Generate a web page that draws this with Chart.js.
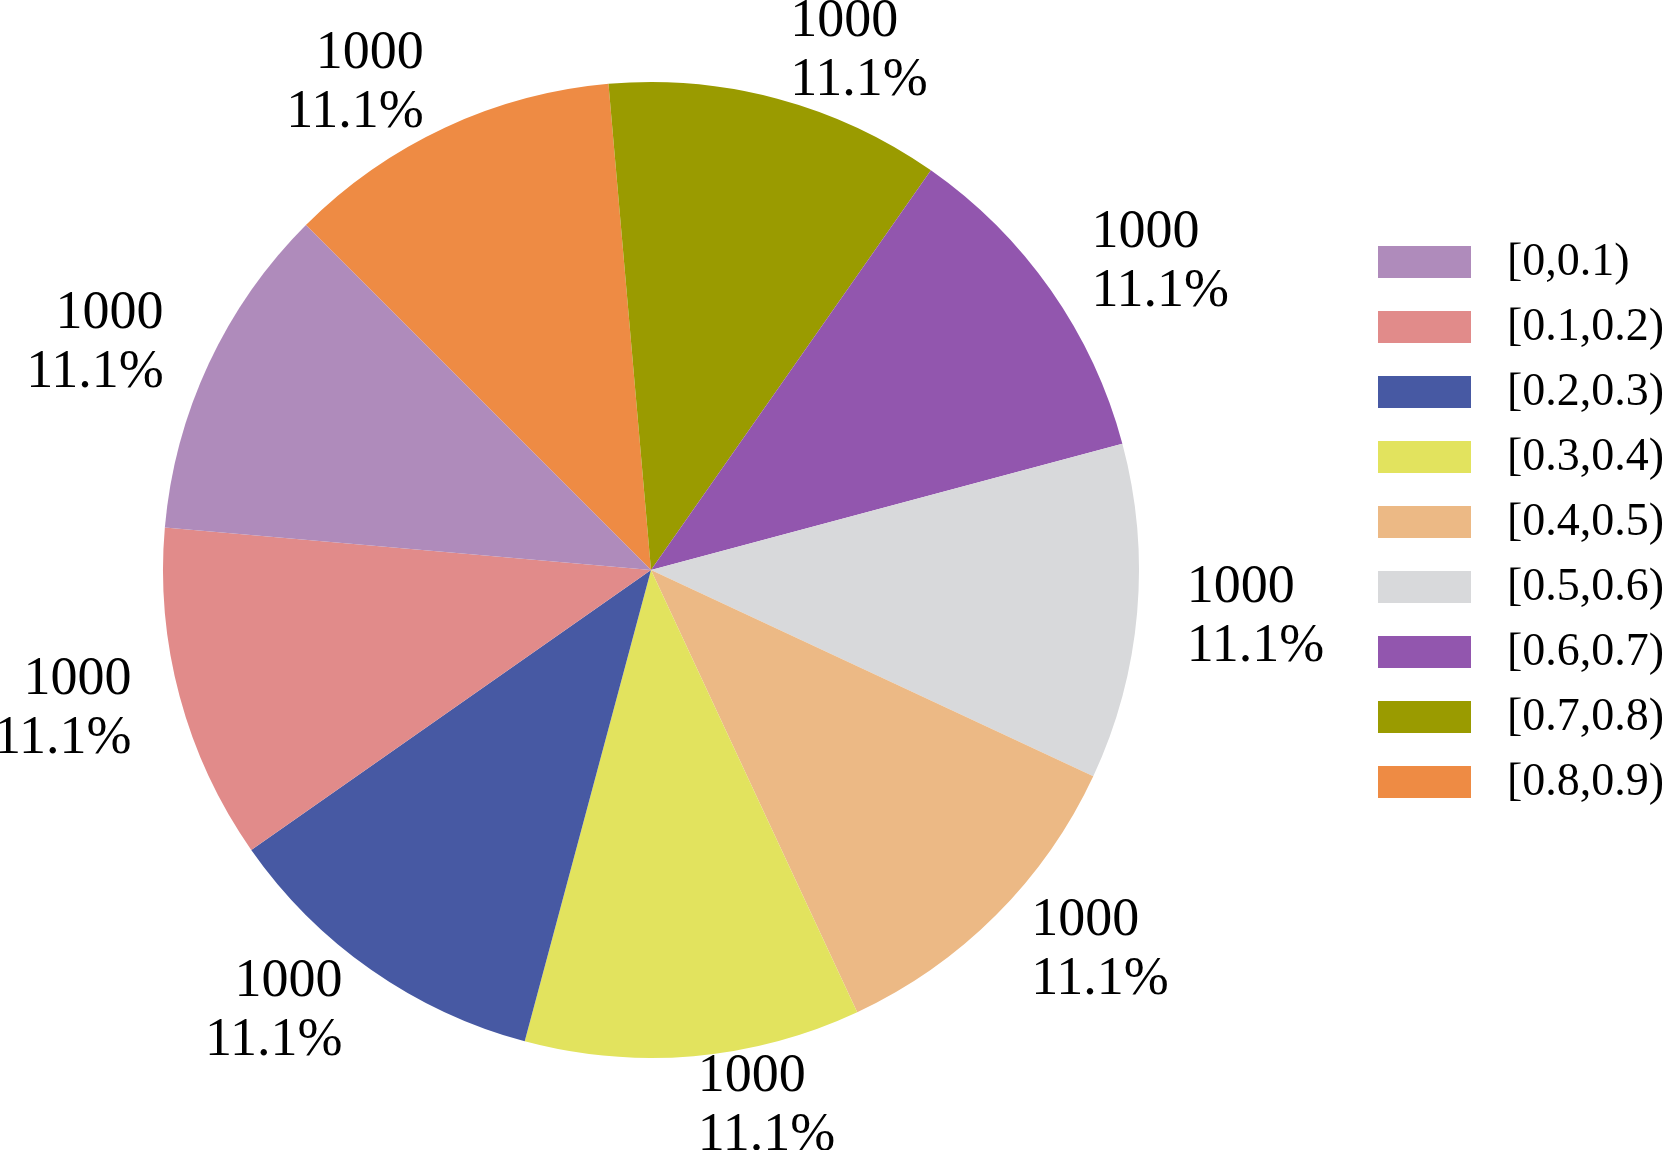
<!DOCTYPE html>
<html>
<head>
<meta charset="utf-8">
<script src="https://cdn.jsdelivr.net/npm/chart.js@4/dist/chart.umd.min.js"></script>
<style>
  html, body { margin: 0; padding: 0; background: #fff; }
  canvas { display: block; }
</style>
</head>
<body>
<canvas id="pieChart" width="1662" height="1150"></canvas>
<script>
// categories in legend order
const categories = ['[0,0.1)', '[0.1,0.2)', '[0.2,0.3)', '[0.3,0.4)', '[0.4,0.5)',
  '[0.5,0.6)', '[0.6,0.7)', '[0.7,0.8)', '[0.8,0.9)'];
const counts = [1000, 1000, 1000, 1000, 1000, 1000, 1000, 1000, 1000];
const colors = ['#AF8BBB', '#E18B8A', '#4759A3', '#E2E35E', '#ECB985',
  '#D8D9DB', '#9256AE', '#9A9B00', '#EE8B44'];

const serif = '"Liberation Serif", "Times New Roman", serif';

// slices run counter-clockwise in the original, so feed them reversed
const pieLabels = categories.slice().reverse();
const pieData = counts.slice().reverse();
const pieColors = colors.slice().reverse();

// value + percent text outside each slice
const sliceLabels = {
  id: 'sliceLabels',
  afterDatasetsDraw(chart) {
    const ctx = chart.ctx;
    const data = chart.data.datasets[0].data;
    const total = data.reduce((a, b) => a + b, 0);
    chart.getDatasetMeta(0).data.forEach((arc, i) => {
      const p = arc.getProps(['x', 'y', 'startAngle', 'endAngle', 'outerRadius'], true);
      const mid = (p.startAngle + p.endAngle) / 2;
      const r = p.outerRadius * 1.102;
      const x = p.x + Math.cos(mid) * r;
      const y = p.y + Math.sin(mid) * r;
      const lines = [String(data[i]), (data[i] / total * 100).toFixed(1) + '%'];
      ctx.save();
      ctx.fillStyle = '#000';
      ctx.font = '54px ' + serif;
      ctx.textAlign = Math.cos(mid) >= 0 ? 'left' : 'right';
      ctx.textBaseline = 'middle';
      ctx.fillText(lines[0], x, y - 29);
      ctx.fillText(lines[1], x, y + 30);
      ctx.restore();
    });
  }
};

// legend on the right, drawn in category order
const sideLegend = {
  id: 'sideLegend',
  afterDraw(chart) {
    const ctx = chart.ctx;
    ctx.save();
    ctx.font = '46px ' + serif;
    ctx.textBaseline = 'middle';
    ctx.textAlign = 'left';
    categories.forEach((c, i) => {
      const cy = 262 + i * 65;
      ctx.fillStyle = colors[i];
      ctx.fillRect(1378, cy - 16, 93, 32);
      ctx.fillStyle = '#000';
      ctx.fillText(c, 1507, cy + 1);
    });
    ctx.restore();
  }
};

const pieCtx = document.getElementById('pieChart').getContext('2d');
const pieChart = new Chart(pieCtx, {
  type: 'pie',
  data: {
    labels: pieLabels,
    datasets: [{
      data: pieData,
      backgroundColor: pieColors,
      borderWidth: 0
    }]
  },
  options: {
    responsive: false,
    animation: false,
    rotation: -45,
    layout: {
      padding: { left: 163, right: 523, top: 82, bottom: 92 }
    },
    plugins: {
      legend: { display: false },
      tooltip: { enabled: false }
    }
  },
  plugins: [sliceLabels, sideLegend]
});
</script>
</body>
</html>
